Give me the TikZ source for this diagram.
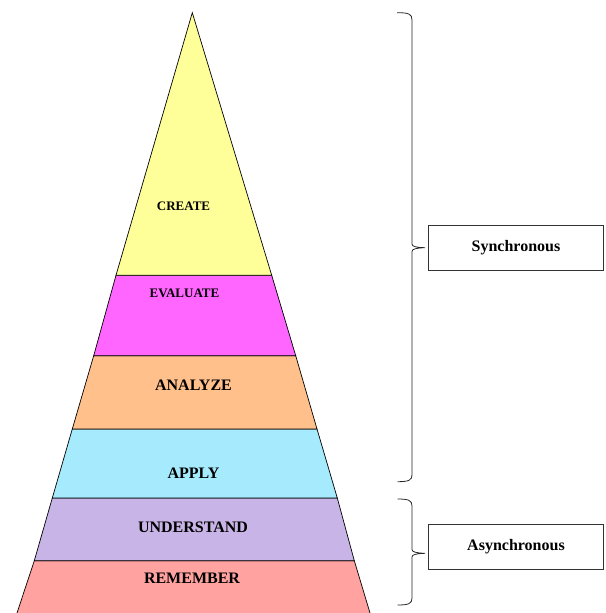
\documentclass[tikz,border=0pt]{standalone}
\usepackage{fontspec}
\setmainfont{Liberation Serif}
\definecolor{cCreate}{RGB}{255,255,153}
\definecolor{cEval}{RGB}{255,102,255}
\definecolor{cAnal}{RGB}{255,192,140}
\definecolor{cApply}{RGB}{165,235,253}
\definecolor{cUnder}{RGB}{200,180,230}
\definecolor{cRem}{RGB}{255,162,160}
\tikzset{
  layer/.style={draw=black, line width=0.7pt, line join=miter},
  lbl/.style={inner sep=0pt, font=\bfseries\fontsize{16}{19}\selectfont},
  slbl/.style={inner sep=0pt, font=\bfseries\fontsize{13}{15}\selectfont},
  box/.style={draw=black!80, line width=0.7pt, minimum width=175pt, minimum height=45pt, inner sep=0pt, font=\bfseries\fontsize{16}{19}\selectfont},
  brace/.style={draw=black!85, line width=0.8pt}
}
\begin{document}
\begin{tikzpicture}[x=1pt,y=-1pt]
\useasboundingbox (0,0) rectangle (605,613);
% layers
\fill[cRem] (17,613) -- (34.3,560.7) -- (354.3,560.7) -- (370,613) -- cycle;
\draw[layer] (17,613) -- (34.3,560.7) -- (354.3,560.7) -- (370,613);
\filldraw[layer, fill=cUnder] (34.3,560.7) -- (52.3,498) -- (337.3,498) -- (354.3,560.7) -- cycle;
\filldraw[layer, fill=cApply] (52.3,498) -- (72.3,429) -- (317,429) -- (337.3,498) -- cycle;
\filldraw[layer, fill=cAnal] (72.3,429) -- (93.7,355.7) -- (295.7,355.7) -- (317,429) -- cycle;
\filldraw[layer, fill=cEval] (93.7,355.7) -- (116,275.3) -- (271.7,275.3) -- (295.7,355.7) -- cycle;
\filldraw[layer, fill=cCreate] (116,275.3) -- (192.3,12.7) -- (271.7,275.3) -- cycle;
% labels
\node[slbl] (create) at (183.5,206.5) {CREATE};
\node[slbl] (evaluate) at (184.5,293) {EVALUATE};
\node[lbl] (analyze) at (193.5,385) {ANALYZE};
\node[lbl] (apply) at (193.5,473) {APPLY};
\node[lbl] (understand) at (193,527) {UNDERSTAND};
\node[lbl] (remember) at (192,578) {REMEMBER};
% boxes
\node[box] (sync) at (516,248) {Synchronous};
\node[box] (async) at (516,546.8) {Asynchronous};
% braces
\coordinate (s1) at (397,12.7);
\coordinate (s2) at (397.5,481.7);
\coordinate (st) at ([xshift=-3pt]sync.west |- 0,247.7);
\coordinate (a1) at (397.5,499);
\coordinate (a2) at (397.5,605);
\coordinate (at) at ([xshift=-3pt]async.west |- 0,553.3);
\draw[brace] (s1) .. controls (409,12.7) and (412,14) .. (412,20)
  -- (412,244) .. controls (412,246.5) and (416,247.5) .. (st)
  .. controls (416,248) and (412,249) .. (412,251.5)
  -- (412,475) .. controls (412,480) and (409,481.7) .. (s2);
\draw[brace] (a1) .. controls (409,499) and (412,500.5) .. (412,506)
  -- (412,549.5) .. controls (412,552) and (416,553) .. (at)
  .. controls (416,553.6) and (412,554.6) .. (412,557)
  -- (412,598) .. controls (412,603.5) and (409,605) .. (a2);
\end{tikzpicture}
\end{document}
